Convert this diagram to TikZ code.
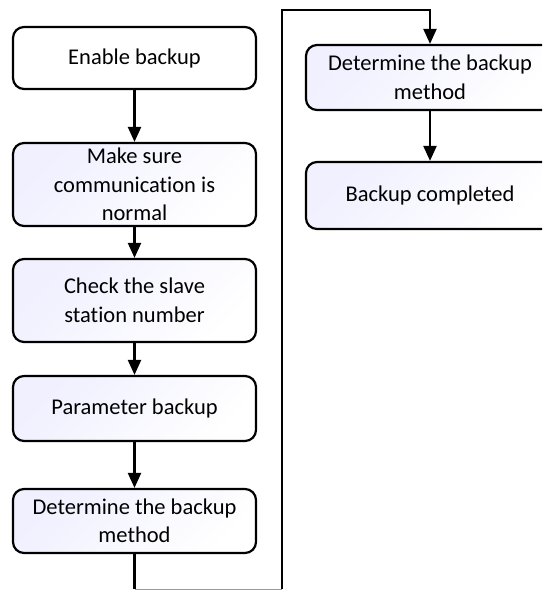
\documentclass[tikz,border=0pt]{standalone}
\usepackage{fontspec}
\setmainfont{Carlito}[Ligatures=NoCommon]
\usetikzlibrary{arrows.meta}
\begin{document}
\begin{tikzpicture}[x=1pt,y=-1pt,
  box/.style={draw=black, line width=2.2pt, rounded corners=11pt, align=center,
    inner sep=0pt, font=\fontsize{22.5}{28.5}\selectfont},
  plainbox/.style={box, fill=white},
  shadebox/.style={box, top color=blue!6!white, bottom color=white, shading angle=45},
  link/.style={line width=2.2pt, -{Triangle[length=15pt,width=13pt]}},
  wire/.style={line width=2.2pt}]
\useasboundingbox (0,0) rectangle (542,590);
\clip (0,0) rectangle (542,590);
\node[plainbox, minimum width=243pt, minimum height=62pt] (b1) at (134.5,58) {Enable backup};
\node[shadebox, minimum width=243pt, minimum height=83pt] (b2) at (134.5,184.5) {Make sure\\communication is\\normal};
\node[shadebox, minimum width=243pt, minimum height=83pt] (b3) at (134.5,300.5) {Check the slave\\station number};
\node[shadebox, minimum width=243pt, minimum height=65pt] (b4) at (134.5,408.5) {Parameter backup};
\node[shadebox, minimum width=243pt, minimum height=64pt] (b5) at (134.5,521) {Determine the backup\\method};
\node[shadebox, minimum width=248pt, minimum height=65pt] (b6) at (430,77.5) {Determine the backup\\method};
\node[shadebox, minimum width=248pt, minimum height=67pt] (b7) at (430,195.5) {Backup completed};
\coordinate (c1) at (134.5,589);
\coordinate (c2) at (282,589);
\coordinate (c3) at (282,10);
\coordinate (c4) at (430,10);
\draw[link] (b1) -- (b2);
\draw[link] (b2) -- (b3);
\draw[link] (b3) -- (b4);
\draw[link] (b4) -- (b5);
\draw[wire] (b5.south) -- (c1);
\draw[wire, draw=black!40, line width=1pt] (c1) -- (c2);
\draw[link] (c2) -- (c3) -- (c4) -- (b6.north);
\draw[link] (b6) -- (b7);
\end{tikzpicture}
\end{document}
